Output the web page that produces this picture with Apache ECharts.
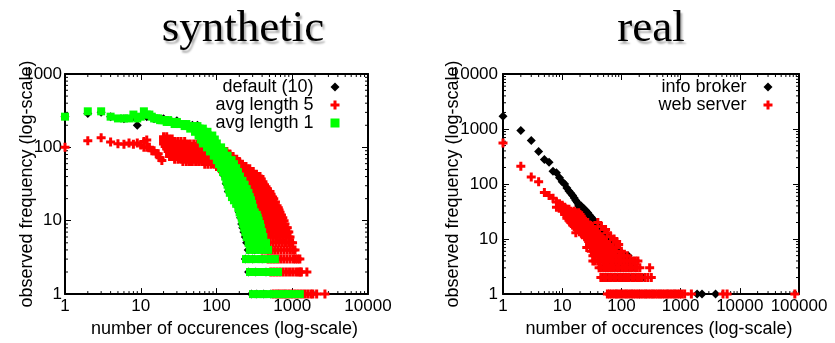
<!DOCTYPE html>
<html><head><meta charset="utf-8">
<script src="https://cdn.jsdelivr.net/npm/echarts@6/dist/echarts.min.js"></script>
<style>html,body{margin:0;padding:0;background:#fff}#c{width:835px;height:343px}</style>
</head><body><div id="c"></div>
<script>
// ---------- texts ----------
const titles = ['synthetic', 'real'];
const xAxisName = 'number of occurences (log-scale)';
const yAxisName = 'observed frequency (log-scale)';
const synNames = ['default (10)', 'avg length 5', 'avg length 1'];
const realNames = ['info broker', 'web server'];

// ---------- axis ranges & minor ticks ----------
const synXRange = [1, 10000];
const synYRange = [1, 1000];
const realXRange = [1, 100000];
const realYRange = [1, 10000];
const synXMinor = [2,3,4,5,6,7,8,9,20,30,40,50,60,70,80,90,200,300,400,500,600,700,800,900,2000,3000,4000,5000,6000,7000,8000,9000];
const synYMinor = [2,3,4,5,6,7,8,9,20,30,40,50,60,70,80,90,200,300,400,500,600,700,800,900];
const realXMinor = [2,3,4,5,6,7,8,9,20,30,40,50,60,70,80,90,200,300,400,500,600,700,800,900,2000,3000,4000,5000,6000,7000,8000,9000,20000,30000,40000,50000,60000,70000,80000,90000];
const realYMinor = [2,3,4,5,6,7,8,9,20,30,40,50,60,70,80,90,200,300,400,500,600,700,800,900,2000,3000,4000,5000,6000,7000,8000,9000];

// ---------- data: rows of [observed frequency, [numbers of occurences]] ----------
const default10Rows = [
  [300,[3]],[290,[2,11]],[262,[1,4,8,12]],[245,[6,15,20]],[230,[25,30]],[200,[9,40,48,56]],
  [172,[52,62]],[142,[60,72]],[115,[63,75]],[92,[80,95]],[70,[96,115]],[55,[110,130]],
  [42,[124,145]],[32,[134,160]],[25,[143,170]],[20,[162,195]],[16,[185,220]],[13,[200,240]],
  [11,[208,250]],[9,[215,260]],[8,[222,268]],[7,[230,275]],[6,[240,290]],[5,[250,300]],
  [4,[262,320]],[3,[240,300,400]],[2,[265,330,450]],[1,[290,340,420,520,650,800]]
];
const avgLen5Rows = [
  [100,[1]],[123,[2]],[135,[3]],[118,[4]],[112,[5]],[110,[6,8]],[115,[7,9]],[108,[10]],[120,[11]],[126,[12]],
  [100,[11,12,13]],[90,[14,15]],[82,[16,17]],[72,[18]],[66,[19]],
  [140,[20,22]],
  [130,[20,22,24,26]],
  [120,[20,22,24,26,28,31,34,38]],
  [111,[20,22,24,26,28,31,34,37,41,45,50,55,60,66]],
  [103,[21,23,25,27,30,33,36,39,43,47,52,57,62,68,75,82,90]],
  [95,[22,24,26,29,32,35,38,42,46,50,55,60,66,72,79,87,95,105,115]],
  [88,[23,25,28,31,34,37,41,45,49,54,59,65,71,78,86,94,103,113,125,137]],
  [81,[24,26,29,32,35,38,42,46,50,55,60,66,72,79,87,95,105,115,127,140,150]],
  [75,[24,26,29,32,35,38,42,46,50,55,60,66,72,79,87,95,105,115,127,140,155,165]],
  [69,[28,31,34,37,41,45,50,55,60,66,72,79,87,95,105,115,127,140,155,170,185]],
  [64,[36,40,44,48,53,58,64,70,77,85,94,103,113,125,138,152,167,185,200]],
  [59,[70,77,85,94,103,113,125,138,152,167,185,205,220]],
  [55,[100,110,121,133,146,160,176,193,212,233,245]],
  [51,[110,121,133,146,160,176,193,212,233,256,275]],
  [47,[120,132,145,160,176,193,212,233,256,282,305]],
  [43,[130,143,157,173,190,209,230,253,278,306,336]],
  [40,[140,154,170,187,205,226,248,273,300,330,360,375]],
  [37,[150,165,182,200,220,242,266,293,322,354,390]],
  [34,[160,176,194,213,234,258,284,312,343,378,410]],
  [31,[170,187,206,226,249,274,301,331,364,400,430]],
  [29,[180,198,218,240,264,290,319,351,386,424,450]],
  [27,[190,209,230,253,278,306,336,370,407,447,470]],
  [25,[200,220,242,266,293,322,354,390,429,472,508]],
  [23,[215,236,260,286,314,346,380,418,460,506,525]],
  [21,[225,248,272,300,330,363,399,439,483,531,550]],
  [20,[230,253,278,306,336,370,407,447,492,541,570]],
  [18,[240,264,290,319,351,386,425,467,514,565,600]],
  [16,[250,275,302,333,366,402,443,487,536,589,630]],
  [15,[260,286,315,346,381,419,461,507,558,614,654]],
  [14,[270,297,327,359,395,435,478,526,579,637,670]],
  [13,[280,308,339,373,410,451,496,546,600,660,690]],
  [12,[290,319,351,386,425,467,514,565,622,684,720]],
  [11,[300,330,363,399,439,483,531,584,643,707,750]],
  [10,[310,341,375,413,454,499,549,604,664,731,780]],
  [9,[320,352,387,426,469,516,567,624,686,755,802]],
  [8,[330,363,399,439,483,531,584,643,707,778,830,860]],
  [7,[340,374,411,452,497,547,602,662,728,801,870,900]],
  [6,[350,385,424,466,513,564,620,682,750,825,900,935]],
  [5,[380,418,460,506,556,612,673,740,814,895,960,1010]],
  [4,[400,440,484,532,586,644,709,780,858,943,1020,1087]],
  [3,[480,528,581,639,703,773,850,935,1029,1100,1180,1260]],
  [2,[520,572,629,692,761,837,921,1013,1114,1200,1270,1320,1560]],
  [1,[560,616,678,745,820,902,992,1091,1200,1320,1452,1597,1757,1870,2100,2700]]
];
const avgLen1Rows = [
  [310,[2,3,11]],[280,[8,12,13]],[262,[1,4,10,14]],[248,[5,6,7,9,15,16,17]],
  [235,[18,19,20,21,23]],[222,[22,24,26,28,30]],[208,[28,32,36,40]],[195,[38,44,50,56]],
  [180,[45,52,60,66]],[163,[52,60,68,76]],[145,[58,67,77,88]],[128,[62,72,83,95]],
  [113,[66,77,88,101]],[100,[75,87,100,115]],[88,[82,95,110,125]],[77,[92,107,122,140]],
  [67,[101,118,137,158]],[59,[108,126,146,170]],[52,[115,135,157,182]],[46,[122,143,167,192]],
  [40,[130,152,177,204]],[35,[135,158,186,220]],[31,[140,165,195,235]],[27,[145,172,202,238,250]],
  [24,[150,178,210,240,264]],[21,[160,190,222,255,275]],[19,[170,200,235,265,285]],
  [17,[182,212,248,280,295]],[15,[194,225,260,305]],[13,[202,235,272,320]],[12,[210,245,285,340]],
  [11,[215,252,295,350]],[10,[220,258,302,360]],[9,[225,265,310,375]],[8,[232,275,322,385]],
  [7,[240,285,335,400]],[6,[250,295,350,415]],[5,[265,310,370,450]],[4,[275,325,385,480]],
  [3,[245,285,335,390,460,530,590]],[2,[277,325,380,445,520,600,650]],
  [1,[303,355,415,485,570,670,780,900,1050,1260]]
];
const infoBrokerRows = [
  [1700,[1]],[940,[2]],[620,[3]],[390,[4]],[280,[5]],[250,[6]],[170,[7]],[160,[8]],[130,[9]],
  [110,[10]],[100,[11]],[85,[12]],[75,[13]],[68,[14]],[62,[15]],[56,[16]],[50,[17]],[46,[18]],
  [42,[19]],[40,[19,20,21]],[36,[20,21,22,23]],[33,[22,23,24,25]],[30,[23,24,25,26,27]],
  [27,[25,26,27,28,29]],[25,[27,28,29,30,31]],[23,[28,29,30,31,32,33]],[21,[30,31,32,33,34,35]],
  [19,[32,33,34,35,36,37,38]],[17,[34,35,36,37,38,40,42]],[15,[36,37,38,40,42,44,46]],
  [14,[38,40,42,44,47,49]],[13,[39,41,43,46,49,52]],[12,[40,42,45,48,51,55]],
  [11,[42,45,48,51,55,59]],[10,[44,47,50,54,58,63,68]],[9,[46,49,53,57,62,67,72]],
  [8,[48,52,56,60,65,71,78]],[7,[50,54,58,63,69,76,85]],[6,[52,56,61,67,74,82,95]],
  [5,[54,59,65,72,80,90,102,115,130]],[4,[50,55,61,68,76,85,95,107,120,140]],
  [3,[50,55,61,68,76,85,95,107,120,135,150,170]],
  [2,[48,53,59,66,74,83,93,105,118,132,148,166,185,207,230]],
  [1,[83,100,120,150,200,260,340,450,600,800,1000,1900,2300,3900]]
];
const webServerRows = [
  [560,[1]],[210,[2]],[134,[3]],[110,[4]],[70,[5]],[62,[6]],[55,[7]],[47,[8]],[44,[9]],
  [41,[9,10]],[38,[8,10,11]],[35,[10,11,12,13]],[32,[10,11,12,13,14,16]],
  [30,[11,12,13,14,15,17,19]],[28,[11,12,13,14,15,16,18,20]],
  [26,[12,13,14,15,16,17,19,21]],[24,[12,13,14,15,16,18,20,22]],
  [22,[13,14,15,16,17,19,21,23]],[20,[14,15,16,17,18,20,22,24,27,40]],
  [18,[15,16,17,18,20,22,24,26,29]],[17,[16,17,18,20,22,24,26,29,32,46]],
  [16,[17,18,20,22,24,26,29,32]],[15,[18,20,22,24,26,29,32,35,54]],
  [14,[20,22,24,26,28,31,34,37]],[13,[17,21,23,25,28,31,34,38,58]],
  [12,[22,24,26,29,32,35,39,42]],[11,[24,26,29,32,35,39,43,46,66]],
  [10,[27,30,33,36,40,44,49,75]],[9,[28,31,34,38,42,46,51,56,83]],
  [8,[29,32,35,39,43,48,53,58,64,90]],[7,[26,30,33,37,41,45,50,55,61,67,82]],
  [6,[31,34,38,42,46,51,56,62,68,75,100]],
  [5,[33,36,40,44,49,54,60,66,73,81,90,110,125]],
  [4,[33,36,40,44,49,54,60,66,73,81,90,100,112,125,140,155,172,190]],
  [3,[42,46,51,56,62,68,75,83,92,102,113,125,138,152,168,185,205,300]],
  [2,[45,50,55,61,67,74,82,91,100,110,122,135,150,165,182,200,220,250,280,320]],
  [1,[58,63,69,76,83,91,100,110,121,133,146,160,176,193,212,233,256,281,309,340,373,410,450,495,544,598,657,722,793,871,957,1052,1170,1520,5200,6100,85000]]
];

// ---------- build ----------
function rowsToPoints(rows) {
  const pts = [];
  rows.forEach(([y, xs]) => xs.forEach(x => pts.push([x, y])));
  return pts;
}
const SANS = 'Liberation Sans';
const SERIF = 'Liberation Serif';
const PLUS = 'path://M3,0H6V3H9V6H6V9H3V6H0V3H3Z';
const fmt = v => String(Math.round(v));

function axis(kind, gridIndex, position, range, withLabel, name, nameGap, labelMargin) {
  const a = {
    type: 'log', logBase: 10, gridIndex, position, min: range[0], max: range[1],
    axisLine: {show: true, onZero: false, lineStyle: {color: '#000', width: 2}},
    axisTick: {show: true, inside: true, length: 6, lineStyle: {color: '#000', width: 1}},
    axisLabel: {show: withLabel, color: '#000', fontSize: 17, fontFamily: SANS, margin: labelMargin, formatter: fmt},
    splitLine: {show: false}, minorTick: {show: false}, minorSplitLine: {show: false}
  };
  if (name) {
    a.name = name; a.nameLocation = 'middle'; a.nameGap = nameGap;
    a.nameTextStyle = {color: '#000', fontSize: 18, fontFamily: SANS};
    if (kind === 'x') a.nameTextStyle.padding = [0, 0, 0, 16];
    else a.nameMoveOverlap = false;
  }
  return a;
}

function minorTicks(xi, yi, xVals, yVals, xRange, yRange) {
  const data = xVals.map(v => [v, yRange[0], 0]).concat(yVals.map(v => [xRange[0], v, 1]));
  const st = {stroke: '#000', lineWidth: 1};
  const L = 3;
  return {
    type: 'custom', xAxisIndex: xi, yAxisIndex: yi, silent: true, clip: false, z: 1,
    encode: {x: 0, y: 1}, data,
    renderItem: (params, api) => {
      if (api.value(2) === 0) {
        const v = api.value(0);
        const b = api.coord([v, yRange[0]]), t = api.coord([v, yRange[1]]);
        return {type: 'group', children: [
          {type: 'line', shape: {x1: b[0], y1: b[1], x2: b[0], y2: b[1] - L}, style: st},
          {type: 'line', shape: {x1: t[0], y1: t[1], x2: t[0], y2: t[1] + L}, style: st}]};
      }
      const v = api.value(1);
      const l = api.coord([xRange[0], v]), r = api.coord([xRange[1], v]);
      return {type: 'group', children: [
        {type: 'line', shape: {x1: l[0], y1: l[1], x2: l[0] + L, y2: l[1]}, style: st},
        {type: 'line', shape: {x1: r[0], y1: r[1], x2: r[0] - L, y2: r[1]}, style: st}]};
    }
  };
}

function scatter(name, xi, yi, rows, symbol, size, color) {
  return {type: 'scatter', name, xAxisIndex: xi, yAxisIndex: yi, data: rowsToPoints(rows),
    symbol, symbolSize: size, itemStyle: {color, opacity: 1}, clip: false, silent: true, large: false};
}

const titleStyle = {fontFamily: SERIF, fontSize: 45, fontWeight: 'normal', color: '#000',
  textShadowColor: 'rgba(0,0,0,0.3)', textShadowBlur: 2, textShadowOffsetX: 2, textShadowOffsetY: 3};
const legendBase = {orient: 'vertical', align: 'right', itemGap: 0, itemWidth: 9, itemHeight: 9,
  padding: 0, selectedMode: false,
  textStyle: {color: '#000', fontSize: 18, fontFamily: SANS, lineHeight: 14, padding: [0, 12, 0, 0]}};

const option = {
  animation: false,
  backgroundColor: '#fff',
  title: [
    {text: titles[0], left: 243, top: 7, textAlign: 'center', padding: 0, textStyle: titleStyle},
    {text: titles[1], left: 651, top: 7, textAlign: 'center', padding: 0, textStyle: titleStyle}
  ],
  legend: [
    Object.assign({}, legendBase, {data: synNames, right: 495.5, top: 78}),
    Object.assign({}, legendBase, {data: realNames, right: 62.5, top: 78})
  ],
  grid: [
    {left: 65, top: 74, width: 303, height: 225},
    {left: 503, top: 74, width: 296, height: 225}
  ],
  xAxis: [
    axis('x', 0, 'bottom', synXRange, true, xAxisName, 22, 4),
    axis('x', 0, 'top', synXRange, false),
    axis('x', 1, 'bottom', realXRange, true, xAxisName, 22, 4),
    axis('x', 1, 'top', realXRange, false)
  ],
  yAxis: [
    axis('y', 0, 'left', synYRange, true, yAxisName, 29, 3),
    axis('y', 0, 'right', synYRange, false),
    axis('y', 1, 'left', realYRange, true, yAxisName, 41, 5),
    axis('y', 1, 'right', realYRange, false)
  ],
  series: [
    minorTicks(0, 0, synXMinor, synYMinor, synXRange, synYRange),
    minorTicks(2, 2, realXMinor, realYMinor, realXRange, realYRange),
    scatter(synNames[0], 0, 0, default10Rows, 'diamond', 9, '#000000'),
    scatter(synNames[1], 0, 0, avgLen5Rows, PLUS, 9, '#ff0000'),
    scatter(synNames[2], 0, 0, avgLen1Rows, 'rect', 8, '#00ff00'),
    scatter(realNames[0], 2, 2, infoBrokerRows, 'diamond', 9, '#000000'),
    scatter(realNames[1], 2, 2, webServerRows, PLUS, 9, '#ff0000')
  ]
};
const chart = echarts.init(document.getElementById('c'), null, {renderer: 'canvas'});
chart.setOption(option);
</script></body></html>
